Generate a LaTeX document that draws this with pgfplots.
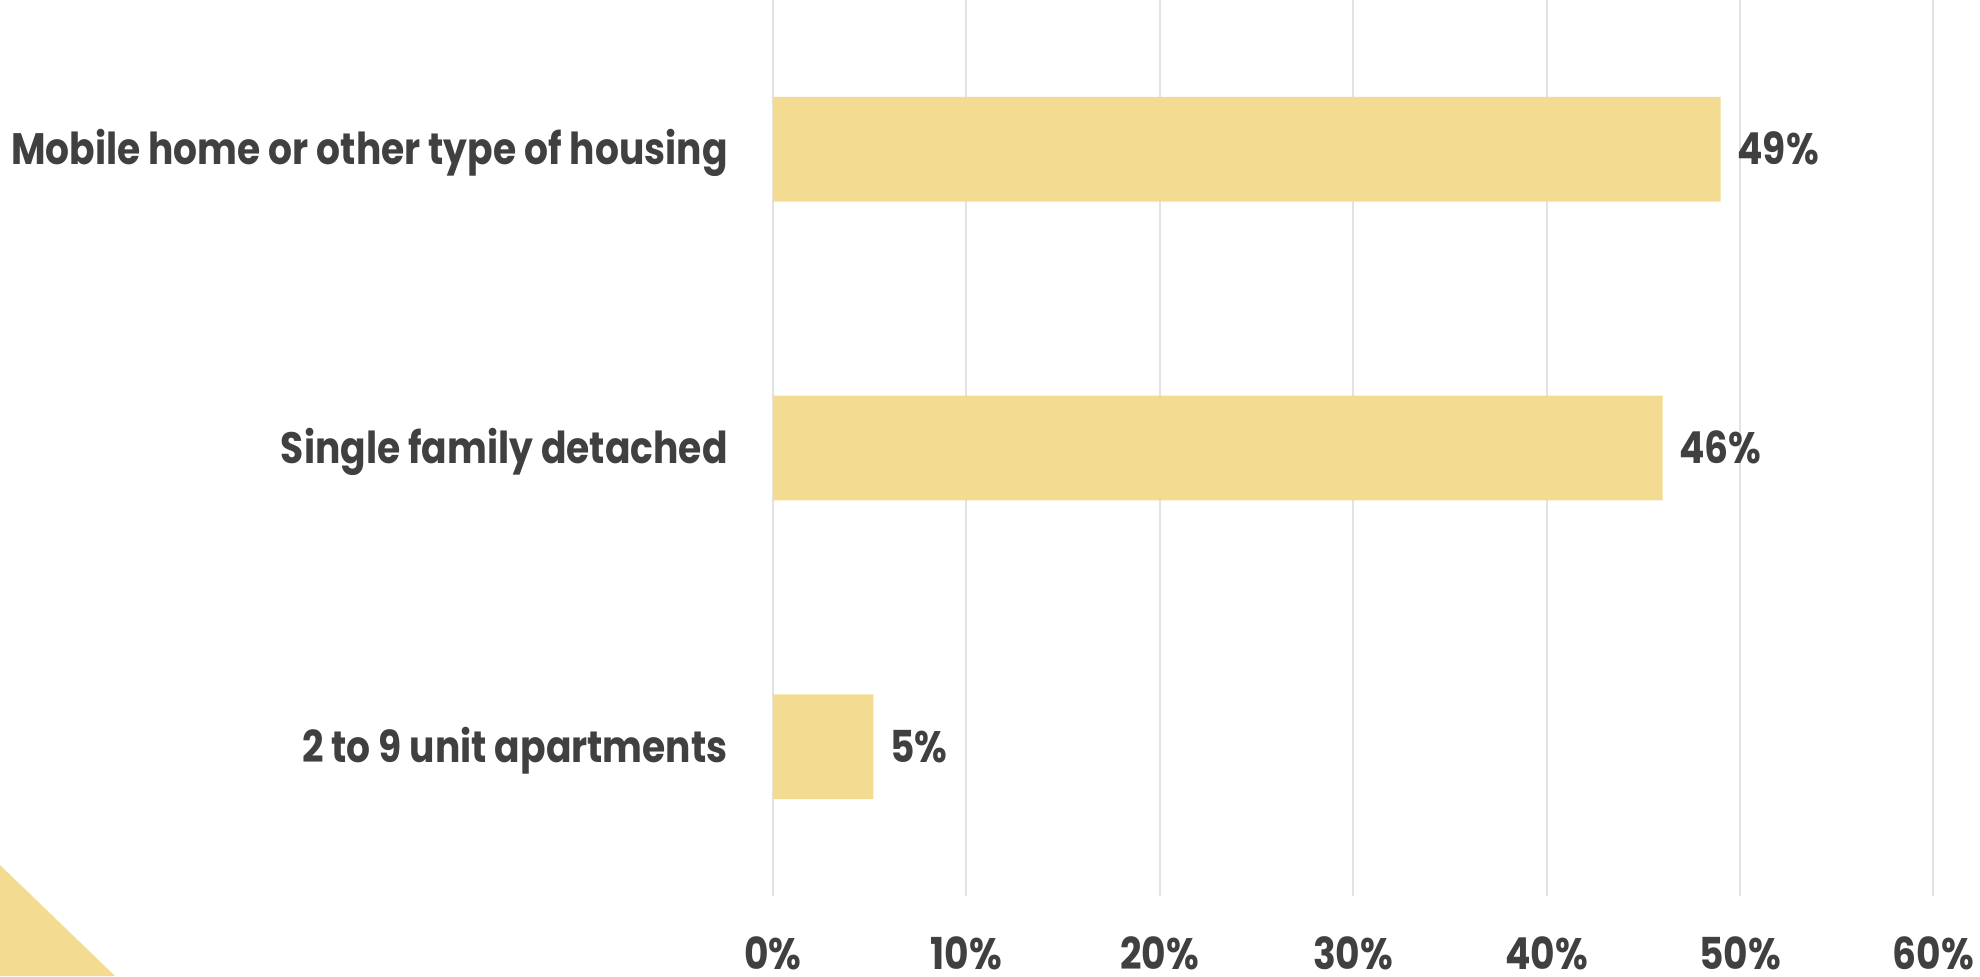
\documentclass[border=0pt]{standalone}
\usepackage{fontspec}
\setmainfont{Poppins}[FakeStretch=0.855]
\usepackage{pgfplots}
\pgfplotsset{compat=1.18}
\definecolor{barc}{HTML}{F3DB92}
\definecolor{txt}{HTML}{404040}
\definecolor{gridc}{HTML}{E3E3E3}
\begin{document}
\begin{tikzpicture}[x=1pt,y=1pt]
\fill[barc] (0,55.5) -- (57.5,0) -- (0,0) -- cycle;
\begin{axis}[
  at={(386.4pt,40pt)}, anchor=south west,
  scale only axis, width=580.3pt, height=448pt,
  xmin=0, xmax=60, ymin=-0.5, ymax=2.5,
  xbar, bar width=52.4pt,
  /pgf/number format/assume math mode=true,
  axis line style={draw=none},
  major tick length=0pt,
  xmajorgrids, grid style={gridc, line width=1pt},
  xtick={0,10,20,30,40,50,60},
  xticklabel={\pgfmathprintnumber{\tick}\%},
  ytick={0,1,2},
  yticklabels={2 to 9 unit apartments, Single family detached, Mobile home or other type of housing},
  every tick label/.append style={font=\fontsize{22}{26}\selectfont\bfseries, text=txt, inner sep=0pt},
  xticklabel style={anchor=center, yshift=-28.5pt},
  yticklabel style={anchor=base east, xshift=-22.4pt, yshift=-7.75pt},
  nodes near coords={\pgfmathprintnumber[fixed,precision=0,assume math mode=true]{\pgfplotspointmeta}\%},
  nodes near coords style={font=\fontsize{22}{26}\selectfont\bfseries, text=txt, anchor=base west, inner sep=0pt, xshift=8.2pt, yshift=-7.75pt},
  clip=false,
]
\addplot[fill=barc, draw=none] coordinates {(5.2,0) (46,1) (49,2)};
\end{axis}
\pgfresetboundingbox
\path[use as bounding box] (0,0) rectangle (990,488);
\end{tikzpicture}
\end{document}
